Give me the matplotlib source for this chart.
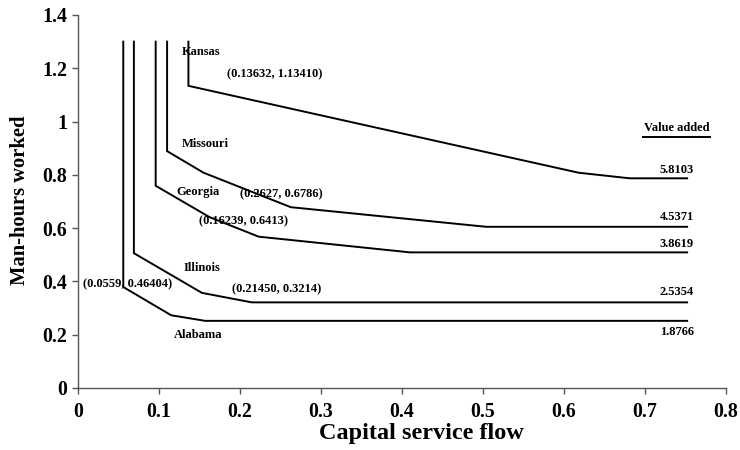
import matplotlib.pyplot as plt

plt.rcParams["font.family"] = ["Liberation Serif", "DejaVu Serif"]
plt.rcParams["font.weight"] = "bold"

# isoquant paths per state (capital service flow, man-hours worked)
alabama_x = [0.0559, 0.0559, 0.115, 0.157, 0.752]
alabama_y = [1.30, 0.379, 0.273, 0.252, 0.252]

illinois_x = [0.069, 0.069, 0.153, 0.2145, 0.752]
illinois_y = [1.30, 0.506, 0.357, 0.3214, 0.3214]

georgia_x = [0.0959, 0.0959, 0.16239, 0.223, 0.41, 0.752]
georgia_y = [1.30, 0.759, 0.6413, 0.568, 0.509, 0.509]

missouri_x = [0.110, 0.110, 0.155, 0.2627, 0.504, 0.752]
missouri_y = [1.30, 0.889, 0.808, 0.6786, 0.605, 0.605]

kansas_x = [0.13632, 0.13632, 0.618, 0.681, 0.752]
kansas_y = [1.30, 1.1341, 0.808, 0.787, 0.787]

value_added = ["5.8103", "4.5371", "3.8619", "2.5354", "1.8766"]
x_ticks = [0, 0.1, 0.2, 0.3, 0.4, 0.5, 0.6, 0.7, 0.8]
y_ticks = [0, 0.2, 0.4, 0.6, 0.8, 1.0, 1.2, 1.4]
y_tick_labels = ["0", "0.2", "0.4", "0.6", "0.8", "1", "1.2", "1.4"]

fig = plt.figure(figsize=(7.4, 4.5), dpi=100)
ax = fig.add_axes([0.1054, 0.1378, 0.8757, 0.8289])

for xs, ys in [(alabama_x, alabama_y), (illinois_x, illinois_y),
               (georgia_x, georgia_y), (missouri_x, missouri_y),
               (kansas_x, kansas_y)]:
    ax.plot(xs, ys, color="black", lw=1.4, solid_joinstyle="miter")

ax.set_xlim(0, 0.8)
ax.set_ylim(0, 1.4)
ax.set_xticks(x_ticks)
ax.set_xticklabels([f"{t:g}" for t in x_ticks])
ax.set_yticks(y_ticks)
ax.set_yticklabels(y_tick_labels)
ax.tick_params(labelsize=14.3, length=4, width=1, color="#555555", pad=4)
ax.tick_params(axis="x", pad=6)
for side in ["top", "right"]:
    ax.spines[side].set_visible(False)
for side in ["left", "bottom"]:
    ax.spines[side].set_color("#555555")
    ax.spines[side].set_linewidth(1)

# axis titles placed in figure coordinates
fig.text(0.569, 0.036, "Capital service flow", fontsize=17.5,
         fontweight="bold", ha="center", va="center")
fig.text(0.027, 0.556, "Man-hours worked", fontsize=14.8,
         fontweight="bold", ha="center", va="center", rotation=90)

fs = 9
ann = dict(fontsize=fs, fontweight="bold", va="center", ha="left")

# state names and marked points
ax.text(0.128, 1.26, "Kansas", **ann)
ax.text(0.184, 1.177, "(0.13632, 1.13410)", **ann)
ax.text(0.128, 0.916, "Missouri", **ann)
ax.text(0.121, 0.736, "Georgia", **ann)
ax.text(0.200, 0.728, "(0.2627, 0.6786)", **ann)
ax.text(0.149, 0.627, "(0.16239, 0.6413)", **ann)
ax.text(0.130, 0.450, "Illinois", **ann)
ax.text(0.190, 0.371, "(0.21450, 0.3214)", **ann)
ax.text(0.006, 0.390, "(0.0559, 0.46404)", **ann)
ax.text(0.118, 0.199, "Alabama", **ann)

# value added for each isoquant
ax.text(0.739, 0.976, "Value added", fontsize=fs, fontweight="bold",
        ha="center", va="center")
ax.plot([0.697, 0.780], [0.941, 0.941], color="black", lw=1.4, clip_on=False)
label_y = [0.818, 0.642, 0.541, 0.360, 0.210]
for txt, yy in zip(value_added, label_y):
    ax.text(0.7605, yy, txt, fontsize=fs, fontweight="bold", ha="right",
            va="center")

fig.savefig("out.png", dpi=100)
